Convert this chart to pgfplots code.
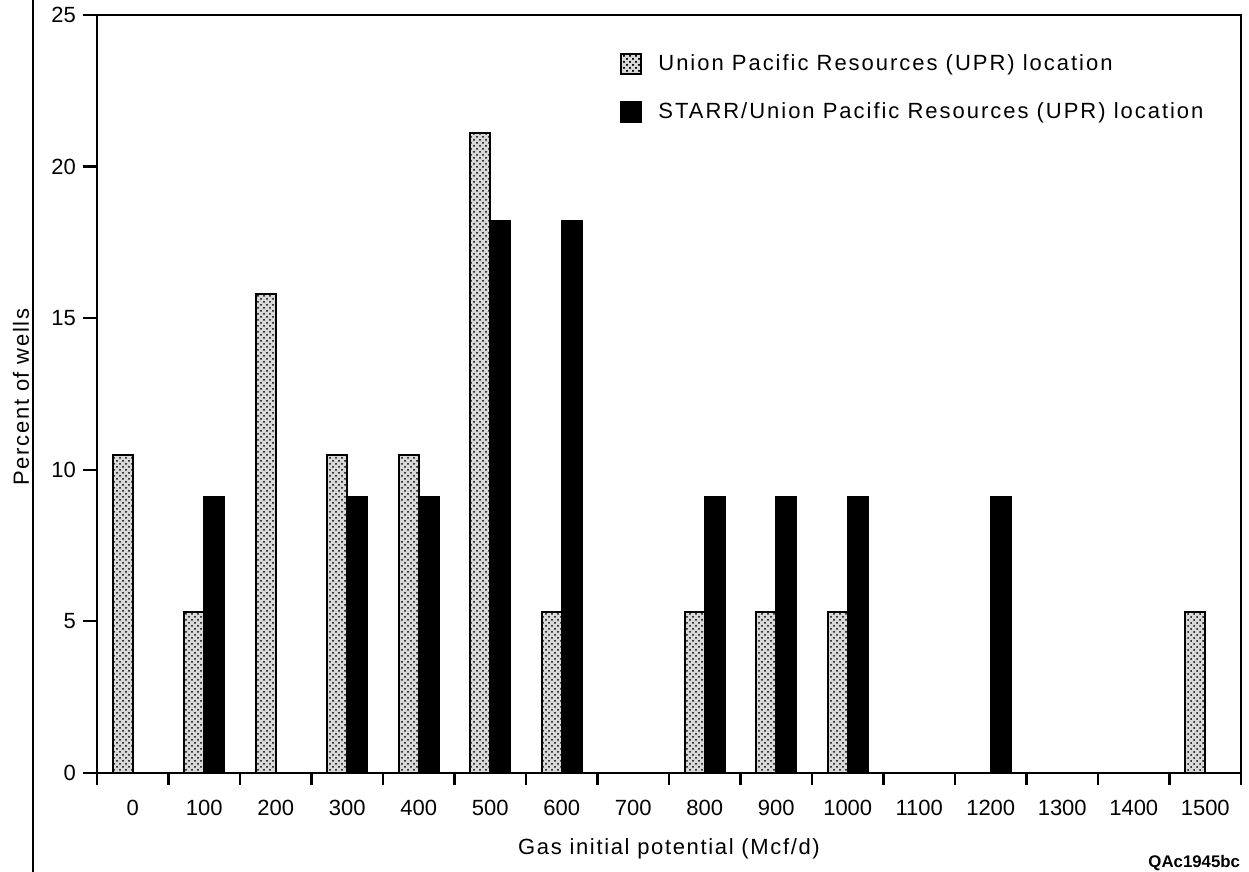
\documentclass[border=0pt]{standalone}
\usepackage{fontspec}
\setmainfont{Liberation Sans}
\newfontfamily\spaced[LetterSpace=7.5]{Liberation Sans}
\newfontfamily\spacedl[LetterSpace=9]{Liberation Sans}
\usepackage{pgfplots}
\pgfplotsset{compat=1.18}
\usetikzlibrary{patterns}
\begin{document}
\begin{tikzpicture}
\useasboundingbox (-48.5pt,-49.5pt) rectangle (576pt,386.5pt);
\draw[line width=0.8pt] (-32pt,-49.5pt) -- (-32pt,386.5pt);
\begin{axis}[
  scale only axis, width=572pt, height=379pt,
  at={(0pt,0pt)}, anchor=south west,
  xmin=-0.5, xmax=15.5, ymin=0, ymax=25,
  ybar=0pt, bar width=10pt,
  axis line style={line width=1.1pt},
  xtick={0,...,15},
  xticklabels={0,100,200,300,400,500,600,700,800,900,1000,1100,1200,1300,1400,1500},
  major x tick style={draw=none},
  minor xtick={-0.5,0.5,...,15.5},
  minor tick length=6pt,
  major tick length=7pt,
  tick align=outside,
  tick style={line width=1.1pt, black},
  xtick pos=left, ytick pos=left,
  ytick={0,5,...,25},
  /pgf/number format/assume math mode=true,
  ticklabel style={font=\fontsize{11}{13}\selectfont},
  xticklabel style={yshift=-3pt},
  xlabel={\spaced Gas initial potential (Mcf/d)},
  ylabel={\spaced Percent of wells},
  label style={font=\fontsize{11}{13}\selectfont},
  xlabel style={at={(axis description cs:0.5,-0.1003)}, anchor=center},
  ylabel style={at={(axis description cs:-0.0664,0.496)}, anchor=center, rotate=0},
  legend style={draw=none, fill=none, at={(0.4572,0.953)}, anchor=north west,
    inner sep=0pt, row sep=10.5pt, font=\fontsize{11}{13}\selectfont\spacedl,
    cells={anchor=west}},
  clip=false,
]
\addplot[draw=black, line width=1pt, fill=black!15, postaction={pattern=crosshatch dots},
  legend image code/.code={\draw[draw=black, line width=1pt, fill=black!15, postaction={pattern=crosshatch dots}] (0pt,-5pt) rectangle (10pt,5pt);}]
  coordinates {(0,10.5) (1,5.3) (2,15.8) (3,10.5) (4,10.5) (5,21.1) (6,5.3) (8,5.3) (9,5.3) (10,5.3) (15,5.3)};
\addlegendentry{\hspace{6pt}Union Pacific Resources (UPR) location}
\addplot[draw=black, line width=1pt, fill=black,
  legend image code/.code={\draw[draw=black, line width=1pt, fill=black] (0pt,-5pt) rectangle (10pt,5pt);}]
  coordinates {(1,9.1) (3,9.1) (4,9.1) (5,18.2) (6,18.2) (8,9.1) (9,9.1) (10,9.1) (12,9.1)};
\addlegendentry{\hspace{6pt}STARR/Union Pacific Resources (UPR) location}
\node[anchor=east, font=\fontsize{8.4}{10}\selectfont\bfseries] at (rel axis cs:1.0053,-0.1187) {QAc1945bc};
\end{axis}
\end{tikzpicture}
\end{document}
